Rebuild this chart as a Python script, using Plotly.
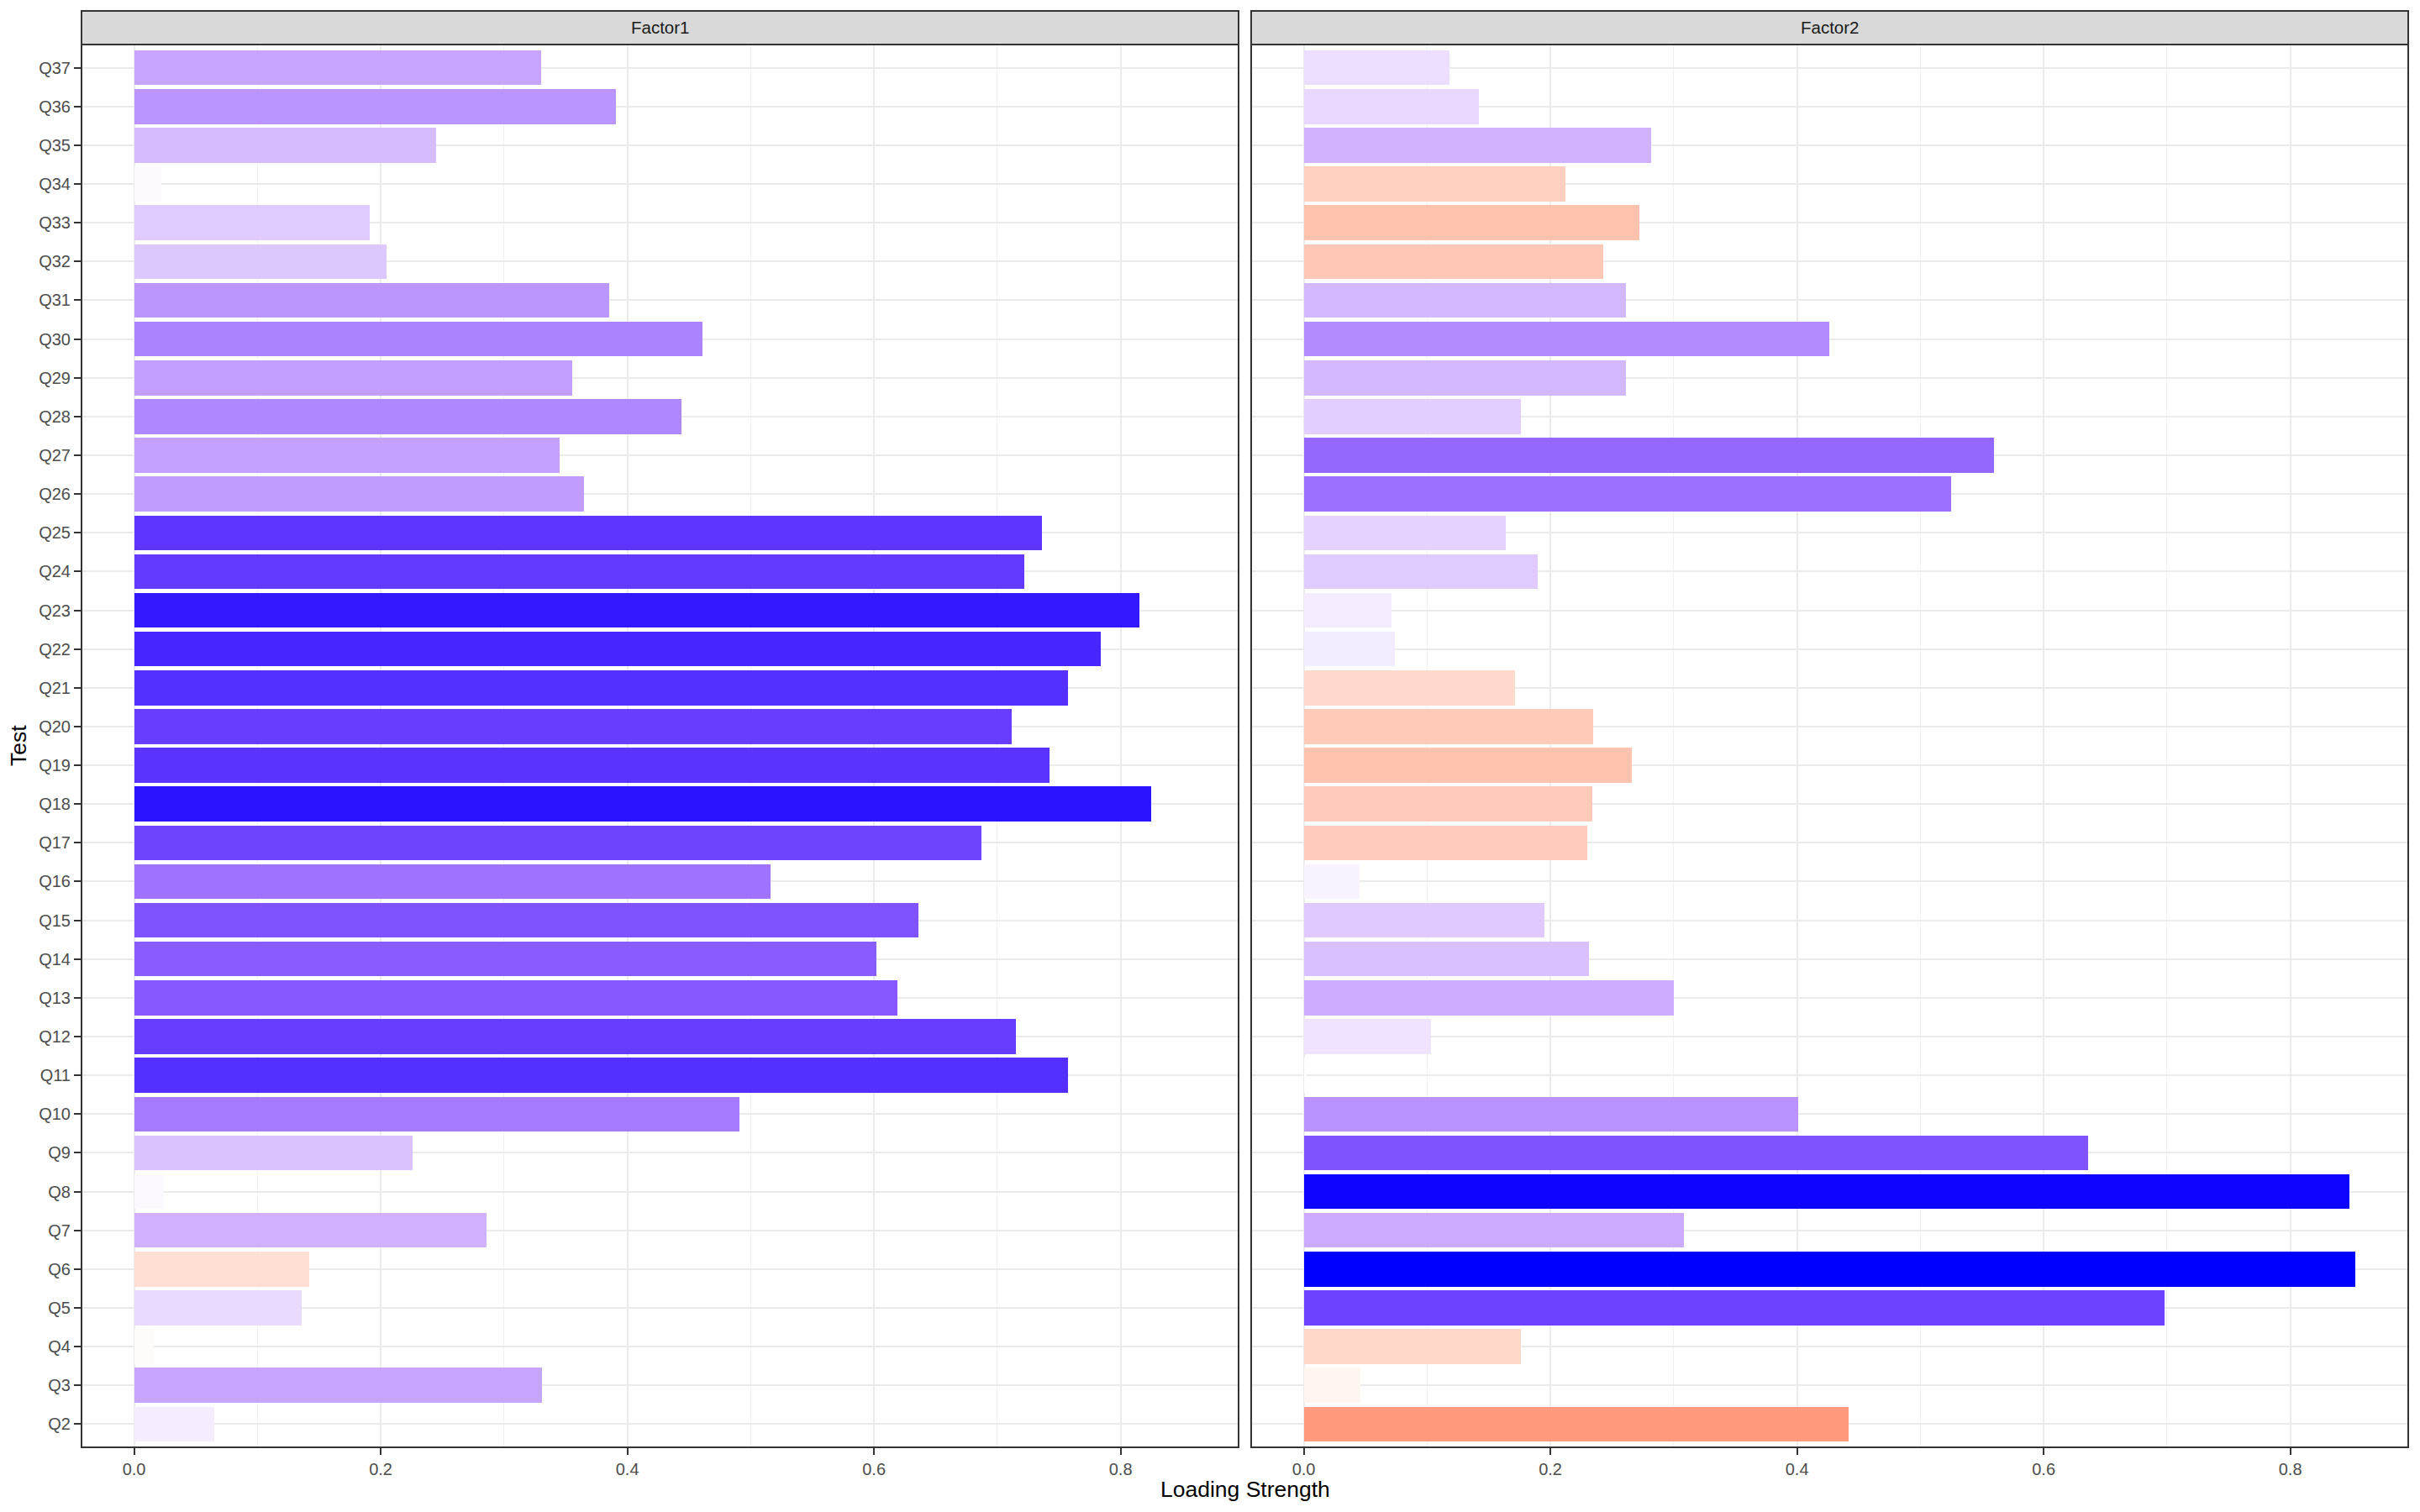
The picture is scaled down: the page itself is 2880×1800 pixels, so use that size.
import plotly.graph_objects as go

# ---------------- data ----------------
tests = ["Q2", "Q3", "Q4", "Q5", "Q6", "Q7", "Q8", "Q9", "Q10", "Q11", "Q12",
         "Q13", "Q14", "Q15", "Q16", "Q17", "Q18", "Q19", "Q20", "Q21", "Q22",
         "Q23", "Q24", "Q25", "Q26", "Q27", "Q28", "Q29", "Q30", "Q31", "Q32",
         "Q33", "Q34", "Q35", "Q36", "Q37"]

factor1 = [0.065, 0.331, -0.016, 0.136, -0.142, 0.286, 0.024, 0.226, 0.491,
           0.757, 0.715, 0.619, 0.602, 0.636, 0.516, 0.687, 0.825, 0.742,
           0.712, 0.757, 0.784, 0.815, 0.722, 0.736, 0.365, 0.345, 0.444,
           0.355, 0.461, 0.385, 0.205, 0.191, 0.022, 0.245, 0.391, 0.330]

factor2 = [-0.442, -0.046, -0.176, 0.698, 0.853, 0.308, 0.848, 0.636, 0.401,
           0.002, 0.103, 0.300, 0.231, 0.195, 0.045, -0.230, -0.234, -0.266,
           -0.235, -0.171, 0.074, 0.071, 0.190, 0.164, 0.525, 0.560, 0.176,
           0.261, 0.426, 0.261, -0.243, -0.272, -0.212, 0.282, 0.142, 0.118]

facets = ["Factor1", "Factor2"]
x_ticks = [0.0, 0.2, 0.4, 0.6, 0.8]
x_tick_text = ["0.0", "0.2", "0.4", "0.6", "0.8"]

LOW, MID, HIGH = "#FF0000", "#FFFFFF", "#0000FF"

# ---------------- Lab colour interpolation (like scale_fill_gradient2) ----------------
def hex_to_rgb(h):
    h = h.lstrip("#")
    return [int(h[i:i + 2], 16) / 255 for i in (0, 2, 4)]

def to_lin(c):
    return c / 12.92 if c <= 0.04045 else ((c + 0.055) / 1.055) ** 2.4

def from_lin(c):
    c = 12.92 * c if c <= 0.0031308 else 1.055 * c ** (1 / 2.4) - 0.055
    return min(1.0, max(0.0, c))

WHITE = (0.95047, 1.0, 1.08883)

def rgb_to_lab(rgb):
    r, g, b = [to_lin(c) for c in rgb]
    X = 0.4124 * r + 0.3576 * g + 0.1805 * b
    Y = 0.2126 * r + 0.7152 * g + 0.0722 * b
    Z = 0.0193 * r + 0.1192 * g + 0.9505 * b
    def f(t):
        return t ** (1 / 3) if t > 0.008856 else 7.787 * t + 16 / 116
    fx, fy, fz = f(X / WHITE[0]), f(Y / WHITE[1]), f(Z / WHITE[2])
    return (116 * fy - 16, 500 * (fx - fy), 200 * (fy - fz))

def lab_to_hex(lab):
    L, a, b = lab
    fy = (L + 16) / 116
    fx = fy + a / 500
    fz = fy - b / 200
    def finv(t):
        return t ** 3 if t ** 3 > 0.008856 else (t - 16 / 116) / 7.787
    X, Y, Z = finv(fx) * WHITE[0], finv(fy) * WHITE[1], finv(fz) * WHITE[2]
    r = 3.2406 * X - 1.5372 * Y - 0.4986 * Z
    g = -0.9689 * X + 1.8758 * Y + 0.0415 * Z
    bb = 0.0557 * X - 0.2040 * Y + 1.0570 * Z
    return "#%02X%02X%02X" % tuple(round(from_lin(c) * 255) for c in (r, g, bb))

lab_low, lab_mid, lab_high = (rgb_to_lab(hex_to_rgb(c)) for c in (LOW, MID, HIGH))
lim = max(abs(v) for v in factor1 + factor2)

def fill(v):
    t = v / lim
    end = lab_high if t >= 0 else lab_low
    t = min(1.0, abs(t))
    return lab_to_hex(tuple(m + (e - m) * t for m, e in zip(lab_mid, end)))

# ---------------- figure ----------------
W, H = 2880, 1800
px = lambda x: x / W
py = lambda y: 1 - y / H

panel_top, panel_bot = 53, 1723
strip_top = 13
dom1 = [px(97), px(1474)]
dom2 = [px(1489), px(2866)]
ydom = [py(panel_bot), py(panel_top)]

R = lim
xrange_ = [-0.05 * R, 1.05 * R]

fig = go.Figure()
for vals, xa, ya in [(factor1, "x", "y"), (factor2, "x2", "y2")]:
    fig.add_trace(go.Bar(
        y=tests, x=[abs(v) for v in vals], orientation="h",
        width=0.9, xaxis=xa, yaxis=ya,
        marker=dict(color=[fill(v) for v in vals], line=dict(width=0)),
        showlegend=False,
        hovertemplate="%{y}: %{customdata:.3f}<extra></extra>",
        customdata=vals,
    ))

TICKFONT = dict(family="Liberation Sans, Arial, sans-serif", size=20, color="#4D4D4D")
xaxis_common = dict(
    range=xrange_, tickvals=x_ticks, ticktext=x_tick_text,
    showgrid=True, gridcolor="#EBEBEB", gridwidth=2,
    minor=dict(tickvals=[0.1, 0.3, 0.5, 0.7], showgrid=True, gridcolor="#F2F2F2", gridwidth=1, ticks=""),
    ticks="outside", ticklen=8, tickwidth=2, tickcolor="#333333",
    tickfont=TICKFONT, zeroline=False, showline=False, fixedrange=True,
)
yaxis_common = dict(
    type="category", categoryorder="array", categoryarray=tests,
    range=[-0.6, len(tests) - 0.4], domain=ydom,
    showgrid=True, gridcolor="#EBEBEB", gridwidth=2, zeroline=False, showline=False,
)

fig.update_layout(
    width=W, height=H,
    margin=dict(l=0, r=0, t=0, b=0),
    paper_bgcolor="white", plot_bgcolor="white",
    bargap=0,
    xaxis=dict(xaxis_common, domain=dom1, anchor="y"),
    xaxis2=dict(xaxis_common, domain=dom2, anchor="y2"),
    yaxis=dict(yaxis_common, anchor="x", ticks="outside", ticklen=8, tickwidth=2,
               tickcolor="#333333", tickfont=TICKFONT),
    yaxis2=dict(yaxis_common, anchor="x2", matches="y", showticklabels=False, ticks=""),
    font=dict(family="Liberation Sans, Arial, sans-serif"),
)

shapes = []
annotations = []
for dom, name in [(dom1, facets[0]), (dom2, facets[1])]:
    shapes.append(dict(type="rect", xref="paper", yref="paper",
                       x0=dom[0], x1=dom[1], y0=py(panel_top), y1=py(strip_top),
                       fillcolor="#D9D9D9", line=dict(color="#333333", width=2), layer="above"))
    shapes.append(dict(type="rect", xref="paper", yref="paper",
                       x0=dom[0], x1=dom[1], y0=ydom[0], y1=ydom[1],
                       fillcolor="rgba(0,0,0,0)", line=dict(color="#333333", width=2), layer="above"))
    annotations.append(dict(text=name, xref="paper", yref="paper",
                            x=(dom[0] + dom[1]) / 2, y=py((strip_top + panel_top) / 2),
                            xanchor="center", yanchor="middle", showarrow=False,
                            font=dict(size=20.5, color="#1A1A1A",
                                      family="Liberation Sans, Arial, sans-serif")))

annotations.append(dict(text="Loading Strength", xref="paper", yref="paper",
                        x=(dom1[0] + dom2[1]) / 2, y=py(1773), xanchor="center", yanchor="middle",
                        showarrow=False, font=dict(size=26.5, color="black")))
annotations.append(dict(text="Test", xref="paper", yref="paper",
                        x=px(22), y=py((panel_top + panel_bot) / 2), xanchor="center", yanchor="middle",
                        textangle=-90, showarrow=False, font=dict(size=26.5, color="black")))

fig.update_layout(shapes=shapes, annotations=annotations)

fig.write_html("out.html")
